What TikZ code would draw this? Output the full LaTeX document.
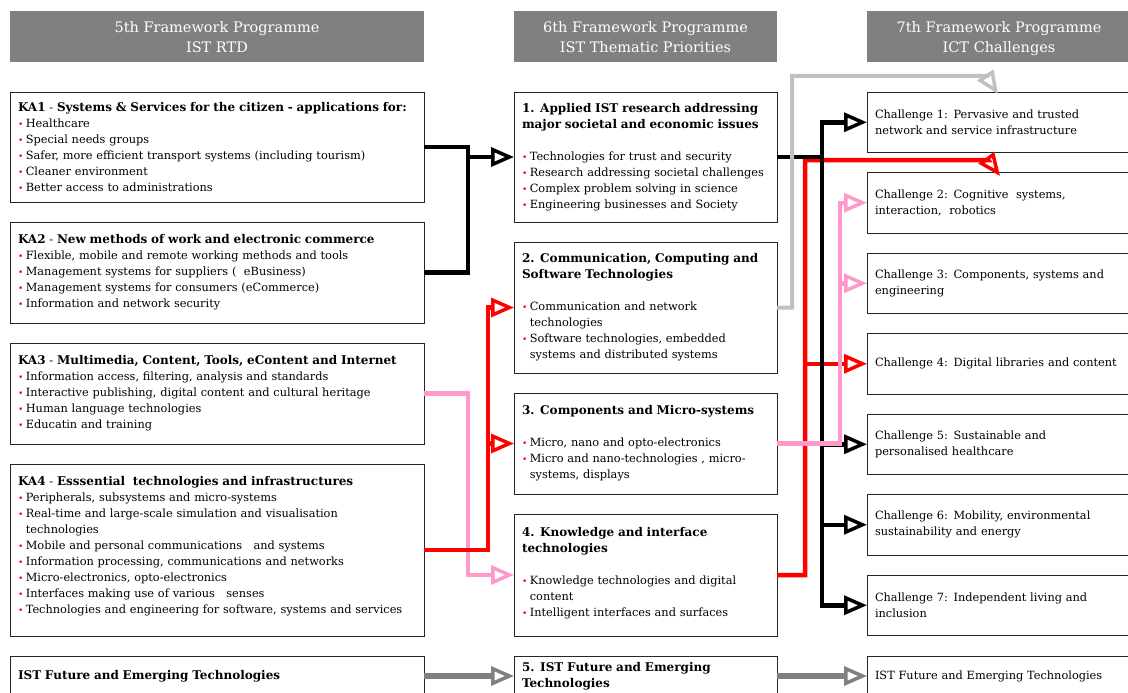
\documentclass[tikz,border=0pt]{standalone}
\usepackage{fontspec}
\setmainfont{DejaVu Serif}
\usetikzlibrary{arrows.meta,positioning}
\definecolor{bulred}{RGB}{255,0,0}
\definecolor{hdrgray}{RGB}{128,128,128}
\definecolor{pinkish}{RGB}{255,153,204}
\definecolor{lightgr}{RGB}{192,192,192}
\newcommand{\bitem}{{\color{bulred}\fontsize{9}{9}\selectfont\textbullet}\hspace{2.5pt}}
\newcommand{\bcont}{\hphantom{\bitem}}
\newcommand{\ttl}[1]{{\fontsize{12}{16}\selectfont\textbf{#1}}}
\newcommand{\hdtop}{\rule{0pt}{18pt}}
\tikzset{
    %Define standard arrow tip
    >={Triangle[open,length=23pt,width=19pt,line width=3.5pt]},
    %Define style for the programme headers
    hdr/.style={
           rectangle,
           fill=hdrgray,
           text=white,
           align=center,
           font=\fontsize{14.5}{20}\selectfont,
           minimum height=51pt,
           inner sep=0pt, outer sep=0pt,
           anchor=north west},
    %Define style for boxes
    boxbase/.style={
           rectangle,
           draw=black!85, line width=0.9pt,
           align=left,
           font=\fontsize{11.35}{16}\selectfont,
           inner xsep=8pt, inner ysep=2pt, outer sep=0pt,
           anchor=north west},
    boxka/.style={boxbase, text width=398pt},
    boxprio/.style={boxbase, text width=247pt},
    boxch/.style={boxbase, text width=248pt, minimum height=60.5pt},
    % Define connector styles
    conn/.style={line width=4.5pt, line join=miter},
    blackln/.style={conn, draw=black},
    redln/.style={conn, draw=red},
    pinkln/.style={conn, draw=pinkish},
    ltgrayln/.style={conn, draw=lightgr, line width=4pt},
    grayln/.style={conn, draw=hdrgray, line width=6pt}
}
\begin{document}
\begin{tikzpicture}[x=1pt,y=-1pt,node distance=20pt]
\useasboundingbox (0,0) rectangle (1128,693);
\clip (0,0) rectangle (1128,693);

 %headers
\node[hdr, minimum width=414pt] (fp5) at (10,11) {\hdtop 5th Framework Programme\\\strut IST RTD};
\node[hdr, minimum width=263pt] (fp6) at (514,11) {\hdtop 6th Framework Programme\\\strut IST Thematic Priorities};
\node[hdr, minimum width=264pt] (fp7) at (867,11) {\hdtop 7th Framework Programme\\\strut ICT Challenges};

 %FP5 key actions
\node[boxka, minimum height=110pt] (ka1) at (10,92) {\ttl{KA1} - \ttl{Systems \& Services for the citizen - applications for:}\\
  \bitem Healthcare\\
  \bitem Special needs groups\\
  \bitem Safer, more efficient transport systems (including tourism)\\
  \bitem Cleaner environment\\
  \bitem Better access to administrations};
\node[boxka, minimum height=101pt, below=of ka1] (ka2) {\ttl{KA2} - \ttl{New methods of work and electronic commerce}\\
  \bitem Flexible, mobile and remote working methods and tools\\
  \bitem Management systems for suppliers (\ \ eBusiness)\\
  \bitem Management systems for consumers (eCommerce)\\
  \bitem Information and network security};
\node[boxka, minimum height=101pt, below=of ka2] (ka3) {\ttl{KA3} - \ttl{Multimedia, Content, Tools, eContent and Internet}\\
  \bitem Information access, filtering, analysis and standards\\
  \bitem Interactive publishing, digital content and cultural heritage\\
  \bitem Human language technologies\\
  \bitem Educatin and training};
\node[boxka, minimum height=172pt, below=of ka3] (ka4) {\ttl{KA4} - \ttl{Esssential\ \ technologies and infrastructures}\\
  \bitem Peripherals, subsystems and micro-systems\\
  \bitem Real-time and large-scale simulation and visualisation\\
  \bcont technologies\\
  \bitem Mobile and personal communications\ \ \ and systems\\
  \bitem Information processing, communications and networks\\
  \bitem Micro-electronics, opto-electronics\\
  \bitem Interfaces making use of various\ \ \ senses\\
  \bitem Technologies and engineering for software, systems and services\\[-6pt]
  \mbox{}};
\node[boxka, minimum height=40pt, below=of ka4] (kafet) {\ttl{IST Future and Emerging Technologies}};

 %FP6 thematic priorities
\node[boxprio, minimum height=130pt] (p1) at (514,92) {\ttl{1. Applied IST research addressing}\\
  \ttl{major societal and economic issues}\\[16pt]
  \bitem Technologies for trust and security\\
  \bitem Research addressing societal challenges\\
  \bitem Complex problem solving in science\\
  \bitem Engineering businesses and Society};
\node[boxprio, minimum height=131pt, below=of p1] (p2) {\ttl{2. Communication, Computing and}\\
  \ttl{Software Technologies}\\[16pt]
  \bitem Communication and network\\
  \bcont technologies\\
  \bitem Software technologies, embedded\\
  \bcont systems and distributed systems};
\node[boxprio, minimum height=101pt, below=of p2] (p3) {\ttl{3. Components and Micro-systems}\\[16pt]
  \bitem Micro, nano and opto-electronics\\
  \bitem Micro and nano-technologies , micro-\\
  \bcont systems, displays};
\node[boxprio, minimum height=122pt, below=of p3] (p4) {\ttl{4. Knowledge and interface}\\
  \ttl{technologies}\\[16pt]
  \bitem Knowledge technologies and digital\\
  \bcont content\\
  \bitem Intelligent interfaces and surfaces\\[-10pt]
  \mbox{}};
\node[boxprio, minimum height=40pt, below=of p4] (p5) {\ttl{5. IST Future and Emerging}\\
  \ttl{Technologies}};

 %FP7 challenges
\node[boxch] (ch1) at (867,92) {Challenge 1: Pervasive and trusted\\network and service infrastructure};
\node[boxch, below=of ch1] (ch2) {Challenge 2: Cognitive\ \ systems,\\interaction,\ \ robotics};
\node[boxch, below=of ch2] (ch3) {Challenge 3: Components, systems and\\engineering};
\node[boxch, below=of ch3] (ch4) {Challenge 4: Digital libraries and content};
\node[boxch, below=of ch4] (ch5) {Challenge 5: Sustainable and\\personalised healthcare};
\node[boxch, below=of ch5] (ch6) {Challenge 6: Mobility, environmental\\sustainability and energy};
\node[boxch, below=of ch6] (ch7) {Challenge 7: Independent living and\\inclusion};
\node[boxch, minimum height=40pt, below=20.5pt of ch7] (chfet) {IST Future and Emerging Technologies};

 %bus lines and bends
\coordinate (xa) at (468,0);
\coordinate (xb) at (488,0);
\coordinate (xg) at (792,0);
\coordinate (xr) at (805,0);
\coordinate (xk) at (822,0);
\coordinate (xp) at (840,0);
\coordinate (gbend) at (986,76);
\coordinate (gend) at (998,94);
\coordinate (rbend) at (988,160);
\coordinate (rend) at (1000,176);

 %FP5 -> FP6
\draw[pinkln,->] (ka3.east) -- (ka3.east -| xa) |- (p4.west);
\draw[redln,->] (ka4.east) -- (ka4.east -| xb) |- (p2.west);
\draw[redln,->] (ka4.east -| xb) |- (p3.west);
\draw[blackln] (ka1.east) -- (ka1.east -| xa) -- (ka2.east -| xa) -- (ka2.east);
\draw[blackln,->] (p1.west -| xa) -- (p1.west);

 %FP6 -> FP7
\draw[redln,->] (p4.east) -- (p4.east -| xr) -- (xr |- rbend) -- (rbend) -- (rend);
\draw[redln,->] (ch4.west -| xr) -- (ch4.west);
\draw[blackln] (p1.east) -- (p1.east -| xk);
\draw[blackln,<->] (ch1.west) -- (ch1.west -| xk) -- (ch7.west -| xk) -- (ch7.west);
\foreach \c in {ch5,ch6}
    \draw[blackln,->] (\c.west -| xk) -- (\c.west);
\draw[pinkln,->] (p3.east) -- (p3.east -| xp) -- (ch2.west -| xp) -- (ch2.west);
\draw[pinkln,->] (ch3.west -| xp) -- (ch3.west);
\draw[ltgrayln,->] (p2.east) -- (p2.east -| xg) -- (xg |- gbend) -- (gbend) -- (gend);
\draw[grayln,->] (kafet.east) -- (p5.west);
\draw[grayln,->] (p5.east) -- (chfet.west);
\end{tikzpicture}
\end{document}
